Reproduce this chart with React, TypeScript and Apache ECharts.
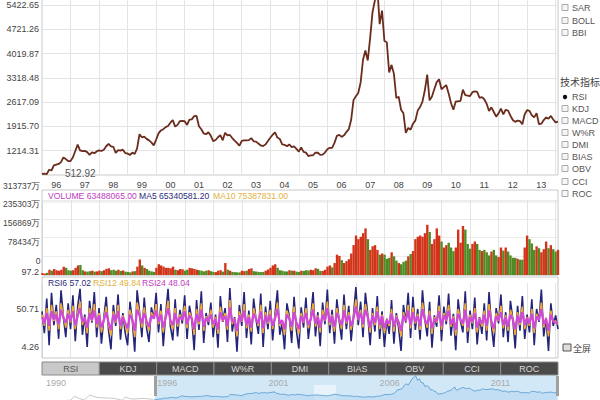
import React, { useEffect, useRef } from 'react';
import * as echarts from 'echarts';

// ---------- data ----------
const YEARS = [1996, 1997, 1998, 1999, 2000, 2001, 2002, 2003, 2004, 2005, 2006, 2007, 2008, 2009, 2010, 2011, 2012, 2013, 2014];

// monthly close, 1996-01 .. 2014-02
const PRICE = [
  537, 553, 539, 665, 643, 790, 813, 832, 884, 1020, 972, 917,
  914, 1024, 1205, 1390, 1226, 1200, 1212, 1173, 1097, 1166, 1142, 1194,
  1227, 1206, 1243, 1343, 1411, 1339, 1328, 1151, 1230, 1218, 1244, 1147,
  1134, 1091, 1158, 1120, 1280, 1690, 1602, 1620, 1556, 1513, 1456, 1367,
  1535, 1714, 1800, 1836, 1894, 1928, 2023, 2101, 1910, 1961, 2070, 2073,
  2065, 1959, 2112, 2119, 2214, 2218, 1920, 1834, 1712, 1690, 1747, 1646,
  1491, 1524, 1603, 1667, 1515, 1732, 1655, 1670, 1581, 1507, 1441, 1357,
  1500, 1511, 1510, 1521, 1577, 1487, 1477, 1421, 1367, 1349, 1397, 1497,
  1590, 1675, 1741, 1595, 1555, 1399, 1386, 1342, 1396, 1320, 1340, 1266,
  1191, 1306, 1181, 1159, 1060, 1080, 1083, 1162, 1155, 1092, 1099, 1161,
  1258, 1299, 1298, 1440, 1641, 1672, 1612, 1658, 1752, 1837, 2099, 2675,
  2786, 2881, 3183, 3841, 4109, 3820, 4471, 5218, 5552, 5954, 4871, 5262,
  4383, 4348, 3473, 3693, 3433, 2736, 2775, 2397, 2293, 1729, 1871, 1821,
  1991, 2082, 2373, 2477, 2633, 2959, 3412, 2668, 2779, 2996, 3195, 3277,
  2989, 3051, 3110, 2870, 2592, 2398, 2638, 2638, 2656, 2979, 2820, 2808,
  2790, 2905, 2928, 2911, 2743, 2762, 2701, 2568, 2359, 2468, 2333, 2199,
  2293, 2428, 2262, 2397, 2373, 2225, 2103, 2047, 2086, 2069, 1980, 2269,
  2385, 2366, 2237, 2178, 2301, 1979, 1994, 2098, 2175, 2141, 2220, 2116,
  2033, 2056,
];

// volume (万)
const VOLUME = [
  8000, 6000, 9000, 22000, 18000, 25000, 20000, 18000, 22000, 35000, 30000, 20000,
  18000, 20000, 30000, 40000, 42000, 20000, 15000, 14000, 16000, 18000, 14000, 15000,
  18000, 16000, 20000, 26000, 28000, 20000, 22000, 18000, 22000, 17000, 19000, 14000,
  13000, 11000, 15000, 16000, 35000, 65000, 40000, 30000, 25000, 18000, 15000, 13000,
  30000, 45000, 40000, 35000, 30000, 30000, 28000, 35000, 22000, 20000, 25000, 24000,
  18000, 22000, 30000, 28000, 25000, 22000, 20000, 18000, 15000, 18000, 20000, 16000,
  13000, 12000, 18000, 20000, 14000, 50000, 22000, 18000, 13000, 12000, 11000, 11000,
  18000, 16000, 18000, 25000, 28000, 16000, 15000, 13000, 12000, 13000, 18000, 23000,
  30000, 40000, 45000, 30000, 20000, 18000, 15000, 15000, 20000, 18000, 18000, 14000,
  13000, 18000, 17000, 20000, 19000, 22000, 20000, 28000, 26000, 17000, 17000, 22000,
  35000, 40000, 32000, 50000, 85000, 80000, 62000, 50000, 58000, 66000, 90000, 125000,
  165000, 150000, 160000, 175000, 195000, 150000, 105000, 120000, 125000, 105000, 85000, 90000,
  85000, 68000, 72000, 95000, 78000, 60000, 50000, 45000, 55000, 60000, 78000, 88000,
  100000, 150000, 160000, 165000, 160000, 175000, 210000, 180000, 130000, 150000, 195000, 165000,
  140000, 115000, 125000, 135000, 115000, 100000, 115000, 190000, 135000, 205000, 190000, 130000,
  110000, 130000, 140000, 130000, 105000, 100000, 105000, 95000, 82000, 98000, 105000, 82000,
  75000, 115000, 102000, 115000, 98000, 82000, 72000, 72000, 68000, 64000, 64000, 115000,
  165000, 150000, 132000, 105000, 120000, 112000, 95000, 108000, 140000, 112000, 125000, 108000,
  98000, 105000,
];

const RSI6 = [
  62, 35, 78, 20, 85, 45, 70, 28, 88, 55, 30, 72,
  40, 82, 25, 68, 90, 33, 58, 18, 75, 48, 86, 30,
  66, 22, 54, 80, 38, 15, 70, 44, 83, 27, 60, 35,
  20, 74, 50, 12, 88, 62, 30, 79, 41, 24, 67, 53,
  85, 36, 71, 19, 58, 90, 43, 26, 77, 31, 64, 47,
  82, 28, 69, 52, 14, 76, 39, 87, 23, 60, 45, 73,
  30, 58, 17, 81, 49, 66, 24, 91, 37, 55, 12, 70,
  44, 86, 29, 63, 21, 78, 52, 34, 84, 18, 68, 40,
  75, 26, 59, 88, 33, 47, 15, 72, 56, 23, 80, 38,
  16, 67, 42, 79, 28, 54, 86, 31, 61, 19, 73, 46,
  89, 35, 64, 22, 77, 50, 27, 83, 40, 69, 25, 57,
  92, 45, 74, 30, 85, 58, 20, 66, 37, 81, 28, 62,
  18, 53, 34, 76, 22, 60, 41, 13, 70, 48, 85, 29,
  80, 39, 65, 27, 88, 52, 31, 74, 17, 57, 43, 82,
  25, 68, 46, 84, 32, 59, 14, 77, 50, 36, 87, 23,
  63, 40, 79, 21, 55, 34, 72, 26, 86, 45, 18, 66,
  47, 83, 30, 61, 24, 75, 52, 16, 69, 38, 81, 28,
  58, 36, 77, 20, 65, 49, 89, 31, 54, 13, 72, 44,
  57, 40,
];
const RSI12 = [
  58, 44, 66, 38, 70, 50, 62, 40, 72, 56, 42, 64,
  48, 69, 40, 60, 74, 45, 55, 35, 66, 50, 71, 42,
  60, 36, 52, 68, 45, 32, 62, 48, 70, 40, 57, 45,
  35, 64, 52, 30, 73, 60, 42, 67, 47, 38, 61, 54,
  71, 46, 63, 36, 56, 75, 49, 40, 66, 43, 58, 51,
  69, 41, 61, 54, 33, 65, 46, 72, 38, 56, 49, 64,
  42, 55, 34, 68, 50, 60, 39, 76, 46, 53, 31, 62,
  49, 71, 41, 58, 37, 66, 54, 44, 70, 35, 61, 47,
  64, 40, 55, 73, 44, 50, 33, 63, 54, 38, 68, 45,
  34, 60, 48, 66, 41, 53, 72, 43, 57, 36, 64, 50,
  74, 45, 58, 37, 66, 52, 40, 70, 47, 61, 39, 55,
  77, 51, 64, 42, 71, 56, 36, 60, 45, 68, 40, 58,
  35, 52, 44, 65, 37, 57, 47, 31, 61, 50, 70, 41,
  67, 47, 59, 39, 73, 53, 42, 63, 34, 55, 48, 69,
  39, 60, 50, 70, 43, 56, 32, 65, 52, 44, 72, 37,
  58, 47, 66, 36, 54, 43, 63, 38, 71, 49, 35, 60,
  50, 69, 41, 57, 38, 64, 53, 33, 61, 45, 68, 40,
  55, 44, 65, 35, 59, 51, 73, 42, 54, 31, 63, 49,
  50, 46,
];
const RSI24 = [
  55, 47, 60, 44, 62, 52, 58, 46, 64, 54, 48, 59,
  50, 62, 45, 56, 66, 49, 54, 42, 60, 51, 63, 46,
  57, 42, 51, 61, 48, 39, 58, 50, 62, 44, 55, 48,
  41, 58, 52, 38, 64, 57, 47, 60, 50, 43, 57, 53,
  63, 49, 58, 42, 54, 66, 51, 45, 60, 47, 55, 52,
  62, 46, 57, 53, 40, 59, 49, 64, 43, 54, 50, 58,
  46, 53, 40, 61, 51, 56, 44, 67, 49, 52, 38, 57,
  50, 63, 45, 55, 42, 59, 53, 47, 62, 41, 57, 49,
  58, 44, 53, 65, 47, 51, 40, 58, 53, 43, 61, 48,
  40, 56, 49, 60, 45, 52, 64, 47, 55, 42, 58, 51,
  66, 48, 56, 43, 60, 52, 45, 63, 49, 57, 44, 53,
  68, 52, 60, 46, 64, 55, 42, 57, 48, 62, 45, 56,
  41, 51, 47, 59, 43, 55, 49, 38, 57, 50, 63, 45,
  61, 49, 56, 44, 65, 52, 46, 58, 41, 53, 50, 62,
  44, 57, 51, 63, 46, 54, 39, 59, 52, 47, 64, 42,
  55, 49, 60, 42, 53, 47, 58, 44, 63, 50, 41, 56,
  51, 61, 45, 55, 43, 58, 52, 40, 57, 48, 61, 45,
  54, 47, 59, 41, 56, 51, 65, 46, 53, 38, 58, 50,
  48, 48,
];

// navigator: early history 1990-1995 (year, value)
const EARLY_DATES = [1990.97, 1991.25, 1991.5, 1991.75, 1992.0, 1992.25, 1992.4, 1992.6, 1992.85, 1993.1, 1993.4, 1993.65, 1993.95, 1994.2, 1994.55, 1994.7, 1994.95, 1995.2, 1995.4, 1995.6, 1995.95];
const EARLY_VALUES = [127, 120, 137, 180, 292, 370, 1266, 800, 400, 1558, 1000, 900, 833, 780, 333, 1052, 648, 640, 763, 720, 555];

const PRICE_AXIS_MIN = 512.92;
const PRICE_AXIS_STEP = 701.39;
const PRICE_AXIS_MAX = 6124.04;
const LOW_MARK = 512.92;
const VOL_AXIS_MAX = 313737;
const VOL_TICK_LABELS = ['0', '78434万', '156869万', '235303万', '313737万'];
const RSI_AXIS_MIN = 4.26;
const RSI_AXIS_MAX = 97.16;
const RSI_TICK_LABELS = ['4.26', '50.71', '97.2'];
const NAV_LABELS = ['1990', '1996', '2001', '2006', '2011'];

const VOL_LEGEND = [
  { text: 'VOLUME 63488065.00', color: '#c23cc2' },
  { text: 'MA5 65340581.20', color: '#2b2b7a' },
  { text: 'MA10 75387831.00', color: '#e0b23c' },
];
const RSI_LEGEND = [
  { text: 'RSI6 57.02', color: '#2b2b7a' },
  { text: 'RSI12 49.84', color: '#e0b23c' },
  { text: 'RSI24 48.04', color: '#c23cc2' },
];
const TABS = ['RSI', 'KDJ', 'MACD', 'W%R', 'DMI', 'BIAS', 'OBV', 'CCI', 'ROC'];
const OVERLAY_ITEMS = ['SAR', 'BOLL', 'BBI'];
const INDICATOR_TITLE = '技术指标';
const INDICATOR_ITEMS = ['RSI', 'KDJ', 'MACD', 'W%R', 'DMI', 'BIAS', 'OBV', 'CCI', 'ROC'];
const FULLSCREEN = '全屏';

// ---------- derived ----------
const MONTHS: string[] = [];
YEARS.forEach((y) => {
  for (let m = 1; m <= 12; m++) MONTHS.push(`${y}-${m < 10 ? '0' + m : m}`);
});
const CATS = MONTHS.slice(0, PRICE.length);

const FONT = 'Liberation Sans, DejaVu Sans, sans-serif';
const CJK = 'Noto Sans CJK SC, sans-serif';
const L = 42;
const W = 516;
const DY = 20; // the canvas starts 20px above the visible page (top of price panel is cut off)

function buildOption() {
  const volData = VOLUME.map((v, i) => ({
    value: v,
    itemStyle: { color: i === 0 || PRICE[i] >= PRICE[i - 1] ? '#d2341a' : '#4f8a22' },
  }));
  const navMain = PRICE.map((v, i) => [YEARS[0] + i / 12, v]);
  const navEarly = EARLY_DATES.map((d, i) => [d, EARLY_VALUES[i]]);

  const catX = (gridIndex: number, labels: boolean) => ({
    type: 'category',
    gridIndex,
    data: CATS,
    boundaryGap: false,
    axisLine: { show: false },
    axisTick: { show: false },
    axisLabel: {
      show: labels,
      interval: (i: number) => i % 12 === 6,
      formatter: (v: string) => v.slice(2, 4),
      color: '#444',
      fontSize: 9,
      fontFamily: FONT,
      margin: 5,
    },
    splitLine: {
      show: true,
      interval: (i: number) => i % 12 === 0,
      lineStyle: { color: '#e4e4e4', width: 1 },
    },
  });

  const graphic: any[] = [];
  // panel frames
  graphic.push({ type: 'rect', shape: { x: L, y: 190 + DY, width: W, height: 85 }, style: { fill: 'none', stroke: '#c8c8c8', lineWidth: 1 }, z: 1 });
  graphic.push({ type: 'line', shape: { x1: L, y1: 202 + DY, x2: L + W, y2: 202 + DY }, style: { stroke: '#e4e4e4', lineWidth: 1 }, z: 1 });
  graphic.push({ type: 'rect', shape: { x: L, y: 277 + DY, width: W, height: 81 }, style: { fill: 'none', stroke: '#c8c8c8', lineWidth: 1 }, z: 1 });
  // legends
  const volX = [48, 139, 213];
  VOL_LEGEND.forEach((it, i) => {
    graphic.push({ type: 'text', x: volX[i], y: 196 + DY, style: { text: it.text, fill: it.color, font: `8.6px ${FONT}`, verticalAlign: 'middle' }, z: 10 });
  });
  const rsiX = [48, 93, 142];
  RSI_LEGEND.forEach((it, i) => {
    graphic.push({ type: 'text', x: rsiX[i], y: 283 + DY, style: { text: it.text, fill: it.color, font: `8.6px ${FONT}`, verticalAlign: 'middle' }, z: 10 });
  });
  // tabs
  const tw = W / TABS.length;
  TABS.forEach((t, i) => {
    const sel = i === 0;
    graphic.push({ type: 'rect', shape: { x: L + i * tw, y: 362 + DY, width: tw, height: 13 }, style: { fill: sel ? '#c9c9c9' : '#4a4a4a', stroke: '#8a8a8a', lineWidth: 1 }, z: 5 });
    graphic.push({ type: 'text', x: L + i * tw + tw / 2, y: 368.5 + DY, style: { text: t, fill: sel ? '#555' : '#d8d8d8', font: `9px ${FONT}`, align: 'center', verticalAlign: 'middle' }, z: 6 });
  });
  // navigator background & handles
  graphic.push({ type: 'rect', shape: { x: 155, y: 375 + DY, width: 403, height: 25 }, style: { fill: '#d3e8f7' }, z: 0 });
  graphic.push({ type: 'rect', shape: { x: 314, y: 385 + DY, width: 22, height: 15 }, style: { fill: '#e8f3fb' }, z: 0 });
  graphic.push({ type: 'rect', shape: { x: 154, y: 376 + DY, width: 3, height: 20 }, style: { fill: '#a0a0a0' }, z: 8 });
  graphic.push({ type: 'rect', shape: { x: 556, y: 376 + DY, width: 3, height: 20 }, style: { fill: '#a0a0a0' }, z: 8 });
  // right side lists
  const box = (y: number) => ({ type: 'rect', shape: { x: 562, y: y - 3.5 + DY, width: 6, height: 6 }, style: { fill: '#f6f6f6', stroke: '#aaa', lineWidth: 1 } });
  const oy = [-4, 8, 21, 33];
  ['', ...OVERLAY_ITEMS].forEach((t, i) => {
    graphic.push(box(oy[i]));
    if (t) graphic.push({ type: 'text', x: 572, y: oy[i] + DY, style: { text: t, fill: '#555', font: `9px ${FONT}`, verticalAlign: 'middle' } });
  });
  graphic.push({ type: 'text', x: 560, y: 81 + DY, style: { text: INDICATOR_TITLE, fill: '#444', font: `10px ${CJK}`, verticalAlign: 'middle' } });
  const iy = [97, 109, 121, 133, 145, 157, 169, 182, 194];
  INDICATOR_ITEMS.forEach((t, i) => {
    if (i === 0) {
      graphic.push({ type: 'circle', shape: { cx: 565, cy: iy[i] + DY, r: 2.2 }, style: { fill: '#111' } });
    } else {
      graphic.push(box(iy[i]));
    }
    graphic.push({ type: 'text', x: 572, y: iy[i] + DY, style: { text: t, fill: '#555', font: `9px ${FONT}`, verticalAlign: 'middle' } });
  });
  graphic.push({ type: 'rect', shape: { x: 563, y: 344 + DY, width: 8, height: 7 }, style: { fill: '#ddd', stroke: '#555', lineWidth: 1 } });
  graphic.push({ type: 'text', x: 573, y: 348 + DY, style: { text: FULLSCREEN, fill: '#444', font: `9px ${CJK}`, verticalAlign: 'middle' } });

  return {
    animation: false,
    backgroundColor: '#fff',
    textStyle: { fontFamily: FONT },
    grid: [
      { left: L, width: W, top: DY - 19.3, height: 194.3, show: true, borderColor: '#c8c8c8', borderWidth: 1 },
      { left: L, width: W, top: 200 + DY, height: 75 },
      { left: L, width: W, top: 283 + DY, height: 75 },
      { left: L, width: W, top: 375 + DY, height: 25 },
    ],
    xAxis: [
      catX(0, true),
      catX(1, false),
      catX(2, false),
      {
        type: 'value',
        gridIndex: 3,
        min: 1990.95,
        max: 2014.15,
        interval: 5,
        position: 'top',
        axisLine: { show: false },
        axisTick: { show: false },
        splitLine: { show: false },
        axisLabel: {
          inside: true,
          showMaxLabel: false,
          align: 'left',
          verticalAlign: 'top',
          margin: 3,
          padding: [0, 0, 0, 4],
          color: '#aaa',
          fontSize: 9,
          fontFamily: FONT,
          formatter: (_v: number, idx: number) => NAV_LABELS[idx] ?? '',
        },
      },
    ],
    yAxis: [
      {
        type: 'value',
        gridIndex: 0,
        min: PRICE_AXIS_MIN,
        max: PRICE_AXIS_MAX,
        interval: PRICE_AXIS_STEP,
        axisLine: { show: false },
        axisTick: { show: false },
        axisLabel: {
          showMinLabel: false,
          showMaxLabel: false,
          color: '#444',
          fontSize: 9,
          fontFamily: FONT,
          margin: 3,
          formatter: (v: number) => v.toFixed(2),
        },
        splitLine: { lineStyle: { color: '#e4e4e4' } },
      },
      {
        type: 'value',
        gridIndex: 1,
        min: 0,
        max: VOL_AXIS_MAX,
        interval: VOL_AXIS_MAX / 4,
        axisLine: { show: false },
        axisTick: { show: false },
        axisLabel: {
          color: '#444',
          fontSize: 8.5,
          fontFamily: FONT,
          margin: 2,
          verticalAlign: 'bottom',
          padding: [0, 0, 10, 0],
          formatter: (_v: number, idx: number) => VOL_TICK_LABELS[idx] ?? '',
        },
        splitLine: { lineStyle: { color: '#ececec' } },
      },
      {
        type: 'value',
        gridIndex: 2,
        min: RSI_AXIS_MIN,
        max: RSI_AXIS_MAX,
        interval: (RSI_AXIS_MAX - RSI_AXIS_MIN) / 2,
        axisLine: { show: false },
        axisTick: { show: false },
        axisLabel: {
          color: '#444',
          fontSize: 9,
          fontFamily: FONT,
          margin: 3,
          verticalAlign: 'bottom',
          padding: [0, 0, 7, 0],
          formatter: (_v: number, idx: number) => RSI_TICK_LABELS[idx] ?? '',
        },
        splitLine: { show: false },
      },
      { type: 'value', gridIndex: 3, min: 400, max: 6124, show: false },
    ],
    series: [
      {
        type: 'line',
        xAxisIndex: 0,
        yAxisIndex: 0,
        data: PRICE,
        symbol: 'none',
        lineStyle: { color: '#6a2c1c', width: 1.8 },
        markPoint: {
          symbol: 'circle',
          symbolSize: 0,
          data: [{ coord: [0, LOW_MARK], value: LOW_MARK }],
          label: {
            show: true,
            position: 'right',
            offset: [18, -2],
            formatter: () => LOW_MARK.toFixed(2),
            color: '#555',
            fontSize: 10,
            fontFamily: FONT,
          },
        },
      },
      {
        type: 'bar',
        xAxisIndex: 1,
        yAxisIndex: 1,
        data: volData,
        barCategoryGap: '0%',
      },
      { type: 'line', xAxisIndex: 2, yAxisIndex: 2, data: RSI6, symbol: 'none', lineStyle: { color: '#24247a', width: 1.6 } },
      { type: 'line', xAxisIndex: 2, yAxisIndex: 2, data: RSI12, symbol: 'none', lineStyle: { color: '#f0a838', width: 1.6 } },
      { type: 'line', xAxisIndex: 2, yAxisIndex: 2, data: RSI24, symbol: 'none', lineStyle: { color: '#d048d8', width: 2.2 } },
      { type: 'line', xAxisIndex: 3, yAxisIndex: 3, data: navEarly, symbol: 'none', lineStyle: { color: '#c8c8c8', width: 1 } },
      {
        type: 'line',
        xAxisIndex: 3,
        yAxisIndex: 3,
        data: navMain,
        symbol: 'none',
        lineStyle: { color: '#6aa6d6', width: 1 },
        areaStyle: { color: '#b9daf2' },
      },
    ],
    graphic,
  };
}

export default function App() {
  const ref = useRef<HTMLDivElement>(null);
  useEffect(() => {
    if (!ref.current) return;
    const chart = echarts.init(ref.current, null, { renderer: 'svg' });
    chart.setOption(buildOption() as any);
    return () => chart.dispose();
  }, []);
  return (
    <div
      ref={ref}
      style={{ position: 'fixed', left: 0, top: -DY, width: 600, height: 400 + DY, background: '#fff' }}
    />
  );
}
